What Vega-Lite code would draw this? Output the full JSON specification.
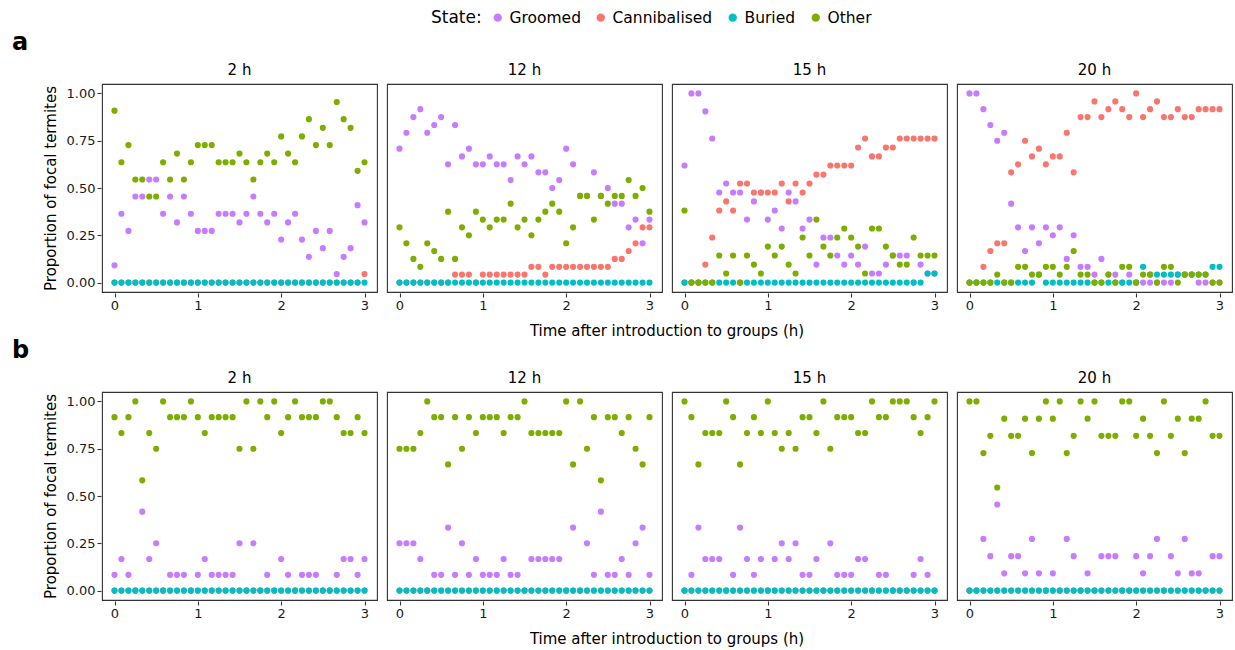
{
"$schema":"https://vega.github.io/schema/vega-lite/v6.json",
"background":"white",
"padding":{"left":12,"top":9,"right":5,"bottom":2},
"datasets":{
"a":[
{"p":"2 h","t":0,"Groomed":0.091,"Cannibalised":0,"Buried":0,"Other":0.909},
{"p":"2 h","t":0.083,"Groomed":0.364,"Cannibalised":0,"Buried":0,"Other":0.636},
{"p":"2 h","t":0.167,"Groomed":0.273,"Cannibalised":0,"Buried":0,"Other":0.727},
{"p":"2 h","t":0.25,"Groomed":0.455,"Cannibalised":0,"Buried":0,"Other":0.545},
{"p":"2 h","t":0.333,"Groomed":0.455,"Cannibalised":0,"Buried":0,"Other":0.545},
{"p":"2 h","t":0.417,"Groomed":0.545,"Cannibalised":0,"Buried":0,"Other":0.455},
{"p":"2 h","t":0.5,"Groomed":0.545,"Cannibalised":0,"Buried":0,"Other":0.455},
{"p":"2 h","t":0.583,"Groomed":0.364,"Cannibalised":0,"Buried":0,"Other":0.636},
{"p":"2 h","t":0.667,"Groomed":0.455,"Cannibalised":0,"Buried":0,"Other":0.545},
{"p":"2 h","t":0.75,"Groomed":0.318,"Cannibalised":0,"Buried":0,"Other":0.682},
{"p":"2 h","t":0.833,"Groomed":0.455,"Cannibalised":0,"Buried":0,"Other":0.545},
{"p":"2 h","t":0.917,"Groomed":0.364,"Cannibalised":0,"Buried":0,"Other":0.636},
{"p":"2 h","t":1,"Groomed":0.273,"Cannibalised":0,"Buried":0,"Other":0.727},
{"p":"2 h","t":1.083,"Groomed":0.273,"Cannibalised":0,"Buried":0,"Other":0.727},
{"p":"2 h","t":1.167,"Groomed":0.273,"Cannibalised":0,"Buried":0,"Other":0.727},
{"p":"2 h","t":1.25,"Groomed":0.364,"Cannibalised":0,"Buried":0,"Other":0.636},
{"p":"2 h","t":1.333,"Groomed":0.364,"Cannibalised":0,"Buried":0,"Other":0.636},
{"p":"2 h","t":1.417,"Groomed":0.364,"Cannibalised":0,"Buried":0,"Other":0.636},
{"p":"2 h","t":1.5,"Groomed":0.318,"Cannibalised":0,"Buried":0,"Other":0.682},
{"p":"2 h","t":1.583,"Groomed":0.364,"Cannibalised":0,"Buried":0,"Other":0.636},
{"p":"2 h","t":1.667,"Groomed":0.455,"Cannibalised":0,"Buried":0,"Other":0.545},
{"p":"2 h","t":1.75,"Groomed":0.364,"Cannibalised":0,"Buried":0,"Other":0.636},
{"p":"2 h","t":1.833,"Groomed":0.318,"Cannibalised":0,"Buried":0,"Other":0.682},
{"p":"2 h","t":1.917,"Groomed":0.364,"Cannibalised":0,"Buried":0,"Other":0.636},
{"p":"2 h","t":2,"Groomed":0.227,"Cannibalised":0,"Buried":0,"Other":0.773},
{"p":"2 h","t":2.083,"Groomed":0.318,"Cannibalised":0,"Buried":0,"Other":0.682},
{"p":"2 h","t":2.167,"Groomed":0.364,"Cannibalised":0,"Buried":0,"Other":0.636},
{"p":"2 h","t":2.25,"Groomed":0.227,"Cannibalised":0,"Buried":0,"Other":0.773},
{"p":"2 h","t":2.333,"Groomed":0.136,"Cannibalised":0,"Buried":0,"Other":0.864},
{"p":"2 h","t":2.417,"Groomed":0.273,"Cannibalised":0,"Buried":0,"Other":0.727},
{"p":"2 h","t":2.5,"Groomed":0.182,"Cannibalised":0,"Buried":0,"Other":0.818},
{"p":"2 h","t":2.583,"Groomed":0.273,"Cannibalised":0,"Buried":0,"Other":0.727},
{"p":"2 h","t":2.667,"Groomed":0.045,"Cannibalised":0,"Buried":0,"Other":0.955},
{"p":"2 h","t":2.75,"Groomed":0.136,"Cannibalised":0,"Buried":0,"Other":0.864},
{"p":"2 h","t":2.833,"Groomed":0.182,"Cannibalised":0,"Buried":0,"Other":0.818},
{"p":"2 h","t":2.917,"Groomed":0.409,"Cannibalised":0,"Buried":0,"Other":0.591},
{"p":"2 h","t":3,"Groomed":0.318,"Cannibalised":0.045,"Buried":0,"Other":0.636},
{"p":"12 h","t":0,"Groomed":0.708,"Cannibalised":0,"Buried":0,"Other":0.292},
{"p":"12 h","t":0.083,"Groomed":0.792,"Cannibalised":0,"Buried":0,"Other":0.208},
{"p":"12 h","t":0.167,"Groomed":0.875,"Cannibalised":0,"Buried":0,"Other":0.125},
{"p":"12 h","t":0.25,"Groomed":0.917,"Cannibalised":0,"Buried":0,"Other":0.083},
{"p":"12 h","t":0.333,"Groomed":0.792,"Cannibalised":0,"Buried":0,"Other":0.208},
{"p":"12 h","t":0.417,"Groomed":0.833,"Cannibalised":0,"Buried":0,"Other":0.167},
{"p":"12 h","t":0.5,"Groomed":0.875,"Cannibalised":0,"Buried":0,"Other":0.125},
{"p":"12 h","t":0.583,"Groomed":0.625,"Cannibalised":0,"Buried":0,"Other":0.375},
{"p":"12 h","t":0.667,"Groomed":0.833,"Cannibalised":0.042,"Buried":0,"Other":0.125},
{"p":"12 h","t":0.75,"Groomed":0.667,"Cannibalised":0.042,"Buried":0,"Other":0.292},
{"p":"12 h","t":0.833,"Groomed":0.708,"Cannibalised":0.042,"Buried":0,"Other":0.25},
{"p":"12 h","t":0.917,"Groomed":0.625,"Cannibalised":0,"Buried":0,"Other":0.375},
{"p":"12 h","t":1,"Groomed":0.625,"Cannibalised":0.042,"Buried":0,"Other":0.333},
{"p":"12 h","t":1.083,"Groomed":0.667,"Cannibalised":0.042,"Buried":0,"Other":0.292},
{"p":"12 h","t":1.167,"Groomed":0.625,"Cannibalised":0.042,"Buried":0,"Other":0.333},
{"p":"12 h","t":1.25,"Groomed":0.625,"Cannibalised":0.042,"Buried":0,"Other":0.333},
{"p":"12 h","t":1.333,"Groomed":0.542,"Cannibalised":0.042,"Buried":0,"Other":0.417},
{"p":"12 h","t":1.417,"Groomed":0.667,"Cannibalised":0.042,"Buried":0,"Other":0.292},
{"p":"12 h","t":1.5,"Groomed":0.625,"Cannibalised":0.042,"Buried":0,"Other":0.333},
{"p":"12 h","t":1.583,"Groomed":0.667,"Cannibalised":0.083,"Buried":0,"Other":0.25},
{"p":"12 h","t":1.667,"Groomed":0.583,"Cannibalised":0.083,"Buried":0,"Other":0.333},
{"p":"12 h","t":1.75,"Groomed":0.583,"Cannibalised":0.042,"Buried":0,"Other":0.375},
{"p":"12 h","t":1.833,"Groomed":0.5,"Cannibalised":0.083,"Buried":0,"Other":0.417},
{"p":"12 h","t":1.917,"Groomed":0.542,"Cannibalised":0.083,"Buried":0,"Other":0.375},
{"p":"12 h","t":2,"Groomed":0.708,"Cannibalised":0.083,"Buried":0,"Other":0.208},
{"p":"12 h","t":2.083,"Groomed":0.625,"Cannibalised":0.083,"Buried":0,"Other":0.292},
{"p":"12 h","t":2.167,"Groomed":0.458,"Cannibalised":0.083,"Buried":0,"Other":0.458},
{"p":"12 h","t":2.25,"Groomed":0.458,"Cannibalised":0.083,"Buried":0,"Other":0.458},
{"p":"12 h","t":2.333,"Groomed":0.583,"Cannibalised":0.083,"Buried":0,"Other":0.333},
{"p":"12 h","t":2.417,"Groomed":0.458,"Cannibalised":0.083,"Buried":0,"Other":0.458},
{"p":"12 h","t":2.5,"Groomed":0.5,"Cannibalised":0.083,"Buried":0,"Other":0.417},
{"p":"12 h","t":2.583,"Groomed":0.417,"Cannibalised":0.125,"Buried":0,"Other":0.458},
{"p":"12 h","t":2.667,"Groomed":0.417,"Cannibalised":0.125,"Buried":0,"Other":0.458},
{"p":"12 h","t":2.75,"Groomed":0.292,"Cannibalised":0.167,"Buried":0,"Other":0.542},
{"p":"12 h","t":2.833,"Groomed":0.333,"Cannibalised":0.208,"Buried":0,"Other":0.458},
{"p":"12 h","t":2.917,"Groomed":0.208,"Cannibalised":0.292,"Buried":0,"Other":0.5},
{"p":"12 h","t":3,"Groomed":0.333,"Cannibalised":0.292,"Buried":0,"Other":0.375},
{"p":"15 h","t":0,"Groomed":0.619,"Cannibalised":0,"Buried":0,"Other":0.381},
{"p":"15 h","t":0.083,"Groomed":1,"Cannibalised":0,"Buried":0,"Other":0},
{"p":"15 h","t":0.167,"Groomed":1,"Cannibalised":0,"Buried":0,"Other":0},
{"p":"15 h","t":0.25,"Groomed":0.905,"Cannibalised":0.095,"Buried":0,"Other":0},
{"p":"15 h","t":0.333,"Groomed":0.762,"Cannibalised":0.238,"Buried":0,"Other":0},
{"p":"15 h","t":0.417,"Groomed":0.476,"Cannibalised":0.381,"Buried":0,"Other":0.143},
{"p":"15 h","t":0.5,"Groomed":0.524,"Cannibalised":0.429,"Buried":0,"Other":0.048},
{"p":"15 h","t":0.583,"Groomed":0.476,"Cannibalised":0.381,"Buried":0,"Other":0.143},
{"p":"15 h","t":0.667,"Groomed":0.476,"Cannibalised":0.524,"Buried":0,"Other":0},
{"p":"15 h","t":0.75,"Groomed":0.333,"Cannibalised":0.524,"Buried":0,"Other":0.143},
{"p":"15 h","t":0.833,"Groomed":0.429,"Cannibalised":0.476,"Buried":0,"Other":0.095},
{"p":"15 h","t":0.917,"Groomed":0.476,"Cannibalised":0.476,"Buried":0,"Other":0.048},
{"p":"15 h","t":1,"Groomed":0.333,"Cannibalised":0.476,"Buried":0,"Other":0.19},
{"p":"15 h","t":1.083,"Groomed":0.381,"Cannibalised":0.476,"Buried":0,"Other":0.143},
{"p":"15 h","t":1.167,"Groomed":0.286,"Cannibalised":0.524,"Buried":0,"Other":0.19},
{"p":"15 h","t":1.25,"Groomed":0.476,"Cannibalised":0.429,"Buried":0,"Other":0.095},
{"p":"15 h","t":1.333,"Groomed":0.429,"Cannibalised":0.524,"Buried":0,"Other":0.048},
{"p":"15 h","t":1.417,"Groomed":0.286,"Cannibalised":0.476,"Buried":0,"Other":0.238},
{"p":"15 h","t":1.5,"Groomed":0.333,"Cannibalised":0.524,"Buried":0,"Other":0.143},
{"p":"15 h","t":1.583,"Groomed":0.095,"Cannibalised":0.571,"Buried":0,"Other":0.333},
{"p":"15 h","t":1.667,"Groomed":0.238,"Cannibalised":0.571,"Buried":0,"Other":0.19},
{"p":"15 h","t":1.75,"Groomed":0.238,"Cannibalised":0.619,"Buried":0,"Other":0.143},
{"p":"15 h","t":1.833,"Groomed":0.143,"Cannibalised":0.619,"Buried":0,"Other":0.238},
{"p":"15 h","t":1.917,"Groomed":0.095,"Cannibalised":0.619,"Buried":0,"Other":0.286},
{"p":"15 h","t":2,"Groomed":0.143,"Cannibalised":0.619,"Buried":0,"Other":0.238},
{"p":"15 h","t":2.083,"Groomed":0.095,"Cannibalised":0.714,"Buried":0,"Other":0.19},
{"p":"15 h","t":2.167,"Groomed":0.19,"Cannibalised":0.762,"Buried":0,"Other":0.048},
{"p":"15 h","t":2.25,"Groomed":0.048,"Cannibalised":0.667,"Buried":0,"Other":0.286},
{"p":"15 h","t":2.333,"Groomed":0.048,"Cannibalised":0.667,"Buried":0,"Other":0.286},
{"p":"15 h","t":2.417,"Groomed":0.095,"Cannibalised":0.714,"Buried":0,"Other":0.19},
{"p":"15 h","t":2.5,"Groomed":0.143,"Cannibalised":0.714,"Buried":0,"Other":0.143},
{"p":"15 h","t":2.583,"Groomed":0.143,"Cannibalised":0.762,"Buried":0,"Other":0.095},
{"p":"15 h","t":2.667,"Groomed":0.143,"Cannibalised":0.762,"Buried":0,"Other":0.095},
{"p":"15 h","t":2.75,"Groomed":0,"Cannibalised":0.762,"Buried":0,"Other":0.238},
{"p":"15 h","t":2.833,"Groomed":0.095,"Cannibalised":0.762,"Buried":0,"Other":0.143},
{"p":"15 h","t":2.917,"Groomed":0.048,"Cannibalised":0.762,"Buried":0.048,"Other":0.143},
{"p":"15 h","t":3,"Groomed":0.048,"Cannibalised":0.762,"Buried":0.048,"Other":0.143},
{"p":"20 h","t":0,"Groomed":1,"Cannibalised":0,"Buried":0,"Other":0},
{"p":"20 h","t":0.083,"Groomed":1,"Cannibalised":0,"Buried":0,"Other":0},
{"p":"20 h","t":0.167,"Groomed":0.917,"Cannibalised":0.083,"Buried":0,"Other":0},
{"p":"20 h","t":0.25,"Groomed":0.833,"Cannibalised":0.167,"Buried":0,"Other":0},
{"p":"20 h","t":0.333,"Groomed":0.75,"Cannibalised":0.208,"Buried":0,"Other":0.042},
{"p":"20 h","t":0.417,"Groomed":0.792,"Cannibalised":0.208,"Buried":0,"Other":0},
{"p":"20 h","t":0.5,"Groomed":0.417,"Cannibalised":0.583,"Buried":0,"Other":0},
{"p":"20 h","t":0.583,"Groomed":0.292,"Cannibalised":0.625,"Buried":0,"Other":0.083},
{"p":"20 h","t":0.667,"Groomed":0.167,"Cannibalised":0.75,"Buried":0,"Other":0.083},
{"p":"20 h","t":0.75,"Groomed":0.292,"Cannibalised":0.667,"Buried":0,"Other":0.042},
{"p":"20 h","t":0.833,"Groomed":0.208,"Cannibalised":0.708,"Buried":0.042,"Other":0.042},
{"p":"20 h","t":0.917,"Groomed":0.292,"Cannibalised":0.625,"Buried":0,"Other":0.083},
{"p":"20 h","t":1,"Groomed":0.25,"Cannibalised":0.667,"Buried":0,"Other":0.083},
{"p":"20 h","t":1.083,"Groomed":0.292,"Cannibalised":0.667,"Buried":0,"Other":0.042},
{"p":"20 h","t":1.167,"Groomed":0.125,"Cannibalised":0.792,"Buried":0,"Other":0.083},
{"p":"20 h","t":1.25,"Groomed":0.25,"Cannibalised":0.583,"Buried":0,"Other":0.167},
{"p":"20 h","t":1.333,"Groomed":0.083,"Cannibalised":0.875,"Buried":0,"Other":0.042},
{"p":"20 h","t":1.417,"Groomed":0.083,"Cannibalised":0.875,"Buried":0,"Other":0.042},
{"p":"20 h","t":1.5,"Groomed":0.042,"Cannibalised":0.958,"Buried":0,"Other":0},
{"p":"20 h","t":1.583,"Groomed":0.125,"Cannibalised":0.875,"Buried":0,"Other":0},
{"p":"20 h","t":1.667,"Groomed":0.042,"Cannibalised":0.917,"Buried":0,"Other":0.042},
{"p":"20 h","t":1.75,"Groomed":0.042,"Cannibalised":0.958,"Buried":0,"Other":0},
{"p":"20 h","t":1.833,"Groomed":0,"Cannibalised":0.917,"Buried":0,"Other":0.083},
{"p":"20 h","t":1.917,"Groomed":0.042,"Cannibalised":0.875,"Buried":0,"Other":0.083},
{"p":"20 h","t":2,"Groomed":0,"Cannibalised":1,"Buried":0,"Other":0},
{"p":"20 h","t":2.083,"Groomed":0,"Cannibalised":0.875,"Buried":0.083,"Other":0.042},
{"p":"20 h","t":2.167,"Groomed":0,"Cannibalised":0.917,"Buried":0.042,"Other":0.042},
{"p":"20 h","t":2.25,"Groomed":0,"Cannibalised":0.958,"Buried":0.042,"Other":0},
{"p":"20 h","t":2.333,"Groomed":0,"Cannibalised":0.875,"Buried":0.042,"Other":0.083},
{"p":"20 h","t":2.417,"Groomed":0,"Cannibalised":0.875,"Buried":0.042,"Other":0.083},
{"p":"20 h","t":2.5,"Groomed":0.042,"Cannibalised":0.917,"Buried":0.042,"Other":0},
{"p":"20 h","t":2.583,"Groomed":0.042,"Cannibalised":0.875,"Buried":0.042,"Other":0.042},
{"p":"20 h","t":2.667,"Groomed":0.042,"Cannibalised":0.875,"Buried":0.042,"Other":0.042},
{"p":"20 h","t":2.75,"Groomed":0,"Cannibalised":0.917,"Buried":0.042,"Other":0.042},
{"p":"20 h","t":2.833,"Groomed":0,"Cannibalised":0.917,"Buried":0.042,"Other":0.042},
{"p":"20 h","t":2.917,"Groomed":0,"Cannibalised":0.917,"Buried":0.083,"Other":0},
{"p":"20 h","t":3,"Groomed":0,"Cannibalised":0.917,"Buried":0.083,"Other":0}
],
"b":[
{"p":"2 h","t":0,"Groomed":0.083,"Cannibalised":0,"Buried":0,"Other":0.917},
{"p":"2 h","t":0.083,"Groomed":0.167,"Cannibalised":0,"Buried":0,"Other":0.833},
{"p":"2 h","t":0.167,"Groomed":0.083,"Cannibalised":0,"Buried":0,"Other":0.917},
{"p":"2 h","t":0.25,"Groomed":0,"Cannibalised":0,"Buried":0,"Other":1},
{"p":"2 h","t":0.333,"Groomed":0.417,"Cannibalised":0,"Buried":0,"Other":0.583},
{"p":"2 h","t":0.417,"Groomed":0.167,"Cannibalised":0,"Buried":0,"Other":0.833},
{"p":"2 h","t":0.5,"Groomed":0.25,"Cannibalised":0,"Buried":0,"Other":0.75},
{"p":"2 h","t":0.583,"Groomed":0,"Cannibalised":0,"Buried":0,"Other":1},
{"p":"2 h","t":0.667,"Groomed":0.083,"Cannibalised":0,"Buried":0,"Other":0.917},
{"p":"2 h","t":0.75,"Groomed":0.083,"Cannibalised":0,"Buried":0,"Other":0.917},
{"p":"2 h","t":0.833,"Groomed":0.083,"Cannibalised":0,"Buried":0,"Other":0.917},
{"p":"2 h","t":0.917,"Groomed":0,"Cannibalised":0,"Buried":0,"Other":1},
{"p":"2 h","t":1,"Groomed":0.083,"Cannibalised":0,"Buried":0,"Other":0.917},
{"p":"2 h","t":1.083,"Groomed":0.167,"Cannibalised":0,"Buried":0,"Other":0.833},
{"p":"2 h","t":1.167,"Groomed":0.083,"Cannibalised":0,"Buried":0,"Other":0.917},
{"p":"2 h","t":1.25,"Groomed":0.083,"Cannibalised":0,"Buried":0,"Other":0.917},
{"p":"2 h","t":1.333,"Groomed":0.083,"Cannibalised":0,"Buried":0,"Other":0.917},
{"p":"2 h","t":1.417,"Groomed":0.083,"Cannibalised":0,"Buried":0,"Other":0.917},
{"p":"2 h","t":1.5,"Groomed":0.25,"Cannibalised":0,"Buried":0,"Other":0.75},
{"p":"2 h","t":1.583,"Groomed":0,"Cannibalised":0,"Buried":0,"Other":1},
{"p":"2 h","t":1.667,"Groomed":0.25,"Cannibalised":0,"Buried":0,"Other":0.75},
{"p":"2 h","t":1.75,"Groomed":0,"Cannibalised":0,"Buried":0,"Other":1},
{"p":"2 h","t":1.833,"Groomed":0.083,"Cannibalised":0,"Buried":0,"Other":0.917},
{"p":"2 h","t":1.917,"Groomed":0,"Cannibalised":0,"Buried":0,"Other":1},
{"p":"2 h","t":2,"Groomed":0.167,"Cannibalised":0,"Buried":0,"Other":0.833},
{"p":"2 h","t":2.083,"Groomed":0.083,"Cannibalised":0,"Buried":0,"Other":0.917},
{"p":"2 h","t":2.167,"Groomed":0,"Cannibalised":0,"Buried":0,"Other":1},
{"p":"2 h","t":2.25,"Groomed":0.083,"Cannibalised":0,"Buried":0,"Other":0.917},
{"p":"2 h","t":2.333,"Groomed":0.083,"Cannibalised":0,"Buried":0,"Other":0.917},
{"p":"2 h","t":2.417,"Groomed":0.083,"Cannibalised":0,"Buried":0,"Other":0.917},
{"p":"2 h","t":2.5,"Groomed":0,"Cannibalised":0,"Buried":0,"Other":1},
{"p":"2 h","t":2.583,"Groomed":0,"Cannibalised":0,"Buried":0,"Other":1},
{"p":"2 h","t":2.667,"Groomed":0.083,"Cannibalised":0,"Buried":0,"Other":0.917},
{"p":"2 h","t":2.75,"Groomed":0.167,"Cannibalised":0,"Buried":0,"Other":0.833},
{"p":"2 h","t":2.833,"Groomed":0.167,"Cannibalised":0,"Buried":0,"Other":0.833},
{"p":"2 h","t":2.917,"Groomed":0.083,"Cannibalised":0,"Buried":0,"Other":0.917},
{"p":"2 h","t":3,"Groomed":0.167,"Cannibalised":0,"Buried":0,"Other":0.833},
{"p":"12 h","t":0,"Groomed":0.25,"Cannibalised":0,"Buried":0,"Other":0.75},
{"p":"12 h","t":0.083,"Groomed":0.25,"Cannibalised":0,"Buried":0,"Other":0.75},
{"p":"12 h","t":0.167,"Groomed":0.25,"Cannibalised":0,"Buried":0,"Other":0.75},
{"p":"12 h","t":0.25,"Groomed":0.167,"Cannibalised":0,"Buried":0,"Other":0.833},
{"p":"12 h","t":0.333,"Groomed":0,"Cannibalised":0,"Buried":0,"Other":1},
{"p":"12 h","t":0.417,"Groomed":0.083,"Cannibalised":0,"Buried":0,"Other":0.917},
{"p":"12 h","t":0.5,"Groomed":0.083,"Cannibalised":0,"Buried":0,"Other":0.917},
{"p":"12 h","t":0.583,"Groomed":0.333,"Cannibalised":0,"Buried":0,"Other":0.667},
{"p":"12 h","t":0.667,"Groomed":0.083,"Cannibalised":0,"Buried":0,"Other":0.917},
{"p":"12 h","t":0.75,"Groomed":0.25,"Cannibalised":0,"Buried":0,"Other":0.75},
{"p":"12 h","t":0.833,"Groomed":0.083,"Cannibalised":0,"Buried":0,"Other":0.917},
{"p":"12 h","t":0.917,"Groomed":0.167,"Cannibalised":0,"Buried":0,"Other":0.833},
{"p":"12 h","t":1,"Groomed":0.083,"Cannibalised":0,"Buried":0,"Other":0.917},
{"p":"12 h","t":1.083,"Groomed":0.083,"Cannibalised":0,"Buried":0,"Other":0.917},
{"p":"12 h","t":1.167,"Groomed":0.083,"Cannibalised":0,"Buried":0,"Other":0.917},
{"p":"12 h","t":1.25,"Groomed":0.167,"Cannibalised":0,"Buried":0,"Other":0.833},
{"p":"12 h","t":1.333,"Groomed":0.083,"Cannibalised":0,"Buried":0,"Other":0.917},
{"p":"12 h","t":1.417,"Groomed":0.083,"Cannibalised":0,"Buried":0,"Other":0.917},
{"p":"12 h","t":1.5,"Groomed":0,"Cannibalised":0,"Buried":0,"Other":1},
{"p":"12 h","t":1.583,"Groomed":0.167,"Cannibalised":0,"Buried":0,"Other":0.833},
{"p":"12 h","t":1.667,"Groomed":0.167,"Cannibalised":0,"Buried":0,"Other":0.833},
{"p":"12 h","t":1.75,"Groomed":0.167,"Cannibalised":0,"Buried":0,"Other":0.833},
{"p":"12 h","t":1.833,"Groomed":0.167,"Cannibalised":0,"Buried":0,"Other":0.833},
{"p":"12 h","t":1.917,"Groomed":0.167,"Cannibalised":0,"Buried":0,"Other":0.833},
{"p":"12 h","t":2,"Groomed":0,"Cannibalised":0,"Buried":0,"Other":1},
{"p":"12 h","t":2.083,"Groomed":0.333,"Cannibalised":0,"Buried":0,"Other":0.667},
{"p":"12 h","t":2.167,"Groomed":0,"Cannibalised":0,"Buried":0,"Other":1},
{"p":"12 h","t":2.25,"Groomed":0.25,"Cannibalised":0,"Buried":0,"Other":0.75},
{"p":"12 h","t":2.333,"Groomed":0.083,"Cannibalised":0,"Buried":0,"Other":0.917},
{"p":"12 h","t":2.417,"Groomed":0.417,"Cannibalised":0,"Buried":0,"Other":0.583},
{"p":"12 h","t":2.5,"Groomed":0.083,"Cannibalised":0,"Buried":0,"Other":0.917},
{"p":"12 h","t":2.583,"Groomed":0.083,"Cannibalised":0,"Buried":0,"Other":0.917},
{"p":"12 h","t":2.667,"Groomed":0.167,"Cannibalised":0,"Buried":0,"Other":0.833},
{"p":"12 h","t":2.75,"Groomed":0.083,"Cannibalised":0,"Buried":0,"Other":0.917},
{"p":"12 h","t":2.833,"Groomed":0.25,"Cannibalised":0,"Buried":0,"Other":0.75},
{"p":"12 h","t":2.917,"Groomed":0.333,"Cannibalised":0,"Buried":0,"Other":0.667},
{"p":"12 h","t":3,"Groomed":0.083,"Cannibalised":0,"Buried":0,"Other":0.917},
{"p":"15 h","t":0,"Groomed":0,"Cannibalised":0,"Buried":0,"Other":1},
{"p":"15 h","t":0.083,"Groomed":0.083,"Cannibalised":0,"Buried":0,"Other":0.917},
{"p":"15 h","t":0.167,"Groomed":0.333,"Cannibalised":0,"Buried":0,"Other":0.667},
{"p":"15 h","t":0.25,"Groomed":0.167,"Cannibalised":0,"Buried":0,"Other":0.833},
{"p":"15 h","t":0.333,"Groomed":0.167,"Cannibalised":0,"Buried":0,"Other":0.833},
{"p":"15 h","t":0.417,"Groomed":0.167,"Cannibalised":0,"Buried":0,"Other":0.833},
{"p":"15 h","t":0.5,"Groomed":0,"Cannibalised":0,"Buried":0,"Other":1},
{"p":"15 h","t":0.583,"Groomed":0.083,"Cannibalised":0,"Buried":0,"Other":0.917},
{"p":"15 h","t":0.667,"Groomed":0.333,"Cannibalised":0,"Buried":0,"Other":0.667},
{"p":"15 h","t":0.75,"Groomed":0.167,"Cannibalised":0,"Buried":0,"Other":0.833},
{"p":"15 h","t":0.833,"Groomed":0.083,"Cannibalised":0,"Buried":0,"Other":0.917},
{"p":"15 h","t":0.917,"Groomed":0.167,"Cannibalised":0,"Buried":0,"Other":0.833},
{"p":"15 h","t":1,"Groomed":0,"Cannibalised":0,"Buried":0,"Other":1},
{"p":"15 h","t":1.083,"Groomed":0.167,"Cannibalised":0,"Buried":0,"Other":0.833},
{"p":"15 h","t":1.167,"Groomed":0.25,"Cannibalised":0,"Buried":0,"Other":0.75},
{"p":"15 h","t":1.25,"Groomed":0.167,"Cannibalised":0,"Buried":0,"Other":0.833},
{"p":"15 h","t":1.333,"Groomed":0.25,"Cannibalised":0,"Buried":0,"Other":0.75},
{"p":"15 h","t":1.417,"Groomed":0.083,"Cannibalised":0,"Buried":0,"Other":0.917},
{"p":"15 h","t":1.5,"Groomed":0.083,"Cannibalised":0,"Buried":0,"Other":0.917},
{"p":"15 h","t":1.583,"Groomed":0.167,"Cannibalised":0,"Buried":0,"Other":0.833},
{"p":"15 h","t":1.667,"Groomed":0,"Cannibalised":0,"Buried":0,"Other":1},
{"p":"15 h","t":1.75,"Groomed":0.25,"Cannibalised":0,"Buried":0,"Other":0.75},
{"p":"15 h","t":1.833,"Groomed":0.083,"Cannibalised":0,"Buried":0,"Other":0.917},
{"p":"15 h","t":1.917,"Groomed":0.083,"Cannibalised":0,"Buried":0,"Other":0.917},
{"p":"15 h","t":2,"Groomed":0.083,"Cannibalised":0,"Buried":0,"Other":0.917},
{"p":"15 h","t":2.083,"Groomed":0.167,"Cannibalised":0,"Buried":0,"Other":0.833},
{"p":"15 h","t":2.167,"Groomed":0.167,"Cannibalised":0,"Buried":0,"Other":0.833},
{"p":"15 h","t":2.25,"Groomed":0,"Cannibalised":0,"Buried":0,"Other":1},
{"p":"15 h","t":2.333,"Groomed":0.083,"Cannibalised":0,"Buried":0,"Other":0.917},
{"p":"15 h","t":2.417,"Groomed":0.083,"Cannibalised":0,"Buried":0,"Other":0.917},
{"p":"15 h","t":2.5,"Groomed":0,"Cannibalised":0,"Buried":0,"Other":1},
{"p":"15 h","t":2.583,"Groomed":0,"Cannibalised":0,"Buried":0,"Other":1},
{"p":"15 h","t":2.667,"Groomed":0,"Cannibalised":0,"Buried":0,"Other":1},
{"p":"15 h","t":2.75,"Groomed":0.083,"Cannibalised":0,"Buried":0,"Other":0.917},
{"p":"15 h","t":2.833,"Groomed":0.167,"Cannibalised":0,"Buried":0,"Other":0.833},
{"p":"15 h","t":2.917,"Groomed":0.083,"Cannibalised":0,"Buried":0,"Other":0.917},
{"p":"15 h","t":3,"Groomed":0,"Cannibalised":0,"Buried":0,"Other":1},
{"p":"20 h","t":0,"Groomed":0,"Cannibalised":0,"Buried":0,"Other":1},
{"p":"20 h","t":0.083,"Groomed":0,"Cannibalised":0,"Buried":0,"Other":1},
{"p":"20 h","t":0.167,"Groomed":0.273,"Cannibalised":0,"Buried":0,"Other":0.727},
{"p":"20 h","t":0.25,"Groomed":0.182,"Cannibalised":0,"Buried":0,"Other":0.818},
{"p":"20 h","t":0.333,"Groomed":0.455,"Cannibalised":0,"Buried":0,"Other":0.545},
{"p":"20 h","t":0.417,"Groomed":0.091,"Cannibalised":0,"Buried":0,"Other":0.909},
{"p":"20 h","t":0.5,"Groomed":0.182,"Cannibalised":0,"Buried":0,"Other":0.818},
{"p":"20 h","t":0.583,"Groomed":0.182,"Cannibalised":0,"Buried":0,"Other":0.818},
{"p":"20 h","t":0.667,"Groomed":0.091,"Cannibalised":0,"Buried":0,"Other":0.909},
{"p":"20 h","t":0.75,"Groomed":0.273,"Cannibalised":0,"Buried":0,"Other":0.727},
{"p":"20 h","t":0.833,"Groomed":0.091,"Cannibalised":0,"Buried":0,"Other":0.909},
{"p":"20 h","t":0.917,"Groomed":0,"Cannibalised":0,"Buried":0,"Other":1},
{"p":"20 h","t":1,"Groomed":0.091,"Cannibalised":0,"Buried":0,"Other":0.909},
{"p":"20 h","t":1.083,"Groomed":0,"Cannibalised":0,"Buried":0,"Other":1},
{"p":"20 h","t":1.167,"Groomed":0.273,"Cannibalised":0,"Buried":0,"Other":0.727},
{"p":"20 h","t":1.25,"Groomed":0.182,"Cannibalised":0,"Buried":0,"Other":0.818},
{"p":"20 h","t":1.333,"Groomed":0,"Cannibalised":0,"Buried":0,"Other":1},
{"p":"20 h","t":1.417,"Groomed":0.091,"Cannibalised":0,"Buried":0,"Other":0.909},
{"p":"20 h","t":1.5,"Groomed":0,"Cannibalised":0,"Buried":0,"Other":1},
{"p":"20 h","t":1.583,"Groomed":0.182,"Cannibalised":0,"Buried":0,"Other":0.818},
{"p":"20 h","t":1.667,"Groomed":0.182,"Cannibalised":0,"Buried":0,"Other":0.818},
{"p":"20 h","t":1.75,"Groomed":0.182,"Cannibalised":0,"Buried":0,"Other":0.818},
{"p":"20 h","t":1.833,"Groomed":0,"Cannibalised":0,"Buried":0,"Other":1},
{"p":"20 h","t":1.917,"Groomed":0,"Cannibalised":0,"Buried":0,"Other":1},
{"p":"20 h","t":2,"Groomed":0.182,"Cannibalised":0,"Buried":0,"Other":0.818},
{"p":"20 h","t":2.083,"Groomed":0.091,"Cannibalised":0,"Buried":0,"Other":0.909},
{"p":"20 h","t":2.167,"Groomed":0.182,"Cannibalised":0,"Buried":0,"Other":0.818},
{"p":"20 h","t":2.25,"Groomed":0.273,"Cannibalised":0,"Buried":0,"Other":0.727},
{"p":"20 h","t":2.333,"Groomed":0,"Cannibalised":0,"Buried":0,"Other":1},
{"p":"20 h","t":2.417,"Groomed":0.182,"Cannibalised":0,"Buried":0,"Other":0.818},
{"p":"20 h","t":2.5,"Groomed":0.091,"Cannibalised":0,"Buried":0,"Other":0.909},
{"p":"20 h","t":2.583,"Groomed":0.273,"Cannibalised":0,"Buried":0,"Other":0.727},
{"p":"20 h","t":2.667,"Groomed":0.091,"Cannibalised":0,"Buried":0,"Other":0.909},
{"p":"20 h","t":2.75,"Groomed":0.091,"Cannibalised":0,"Buried":0,"Other":0.909},
{"p":"20 h","t":2.833,"Groomed":0,"Cannibalised":0,"Buried":0,"Other":1},
{"p":"20 h","t":2.917,"Groomed":0.182,"Cannibalised":0,"Buried":0,"Other":0.818},
{"p":"20 h","t":3,"Groomed":0.182,"Cannibalised":0,"Buried":0,"Other":0.818}
]
},
"vconcat":[
{
"title":{"text":"a","anchor":"start","dx":-31,"fontSize":24,"fontWeight":"bold","color":"black","offset":7.5},
"data":{"name":"a"},
"transform":[{"fold":["Groomed","Cannibalised","Buried","Other"],"as":["State","value"]}],
"facet":{"column":{"field":"p","type":"nominal","sort":["2 h","12 h","15 h","20 h"],"title":"Time after introduction to groups (h)","header":{"labelOrient":"top","titleOrient":"bottom","labelFontSize":15,"labelColor":"black","labelPadding":5.5,"titleFontSize":15,"titleFontWeight":"normal","titleColor":"black","titlePadding":1.5}}},
"spacing":8,
"spec":{
"width":275,"height":208,
"mark":{"type":"circle","size":38,"opacity":1},
"encoding":{
"x":{"field":"t","type":"quantitative","scale":{"domain":[-0.15,3.15],"nice":false,"zero":false},"axis":{"values":[0,1,2,3],"format":"d","title":null}},
"y":{"field":"value","type":"quantitative","scale":{"domain":[-0.05,1.05],"nice":false},"axis":{"values":[0,0.25,0.5,0.75,1],"format":".2f","title":"Proportion of focal termites"}},
"color":{"field":"State","type":"nominal","scale":{"domain":["Groomed","Cannibalised","Buried","Other"],"range":["#C77CFF","#F8766D","#00BFC4","#7CAE00"]},"legend":{"title":"State:","orient":"none","legendX":329,"legendY":-74.5,"direction":"horizontal","titleOrient":"left"}}
}
}
},
{
"title":{"text":"b","anchor":"start","dx":-31,"fontSize":24,"fontWeight":"bold","color":"black","offset":7.5},
"data":{"name":"b"},
"transform":[{"fold":["Groomed","Cannibalised","Buried","Other"],"as":["State","value"]}],
"facet":{"column":{"field":"p","type":"nominal","sort":["2 h","12 h","15 h","20 h"],"title":"Time after introduction to groups (h)","header":{"labelOrient":"top","titleOrient":"bottom","labelFontSize":15,"labelColor":"black","labelPadding":5.5,"titleFontSize":15,"titleFontWeight":"normal","titleColor":"black","titlePadding":1.5}}},
"spacing":8,
"spec":{
"width":275,"height":208,
"mark":{"type":"circle","size":38,"opacity":1},
"encoding":{
"x":{"field":"t","type":"quantitative","scale":{"domain":[-0.15,3.15],"nice":false,"zero":false},"axis":{"values":[0,1,2,3],"format":"d","title":null}},
"y":{"field":"value","type":"quantitative","scale":{"domain":[-0.05,1.05],"nice":false},"axis":{"values":[0,0.25,0.5,0.75,1],"format":".2f","title":"Proportion of focal termites"}},
"color":{"field":"State","type":"nominal","scale":{"domain":["Groomed","Cannibalised","Buried","Other"],"range":["#C77CFF","#F8766D","#00BFC4","#7CAE00"]},"legend":{"title":"State:","orient":"none","legendX":329,"legendY":-74.5,"direction":"horizontal","titleOrient":"left"}}
}
}
}
],
"spacing":0,
"config":{
"font":"DejaVu Sans",
"view":{"stroke":"#333333","strokeWidth":1.1},
"axis":{"grid":false,"domain":false,"tickColor":"#333333","tickSize":4,"tickWidth":1.1,"labelFontSize":13,"labelColor":"#1a1a1a","titleFontSize":15,"titleFontWeight":"normal","titleColor":"black","labelPadding":2},
"axisY":{"titlePadding":8},
"legend":{"titleFontSize":17,"titleFontWeight":"normal","titleColor":"black","labelFontSize":15.5,"labelColor":"black","symbolType":"circle","symbolSize":70,"symbolStrokeWidth":0,"columnPadding":12,"symbolOffset":0,"titlePadding":8}
}
}
